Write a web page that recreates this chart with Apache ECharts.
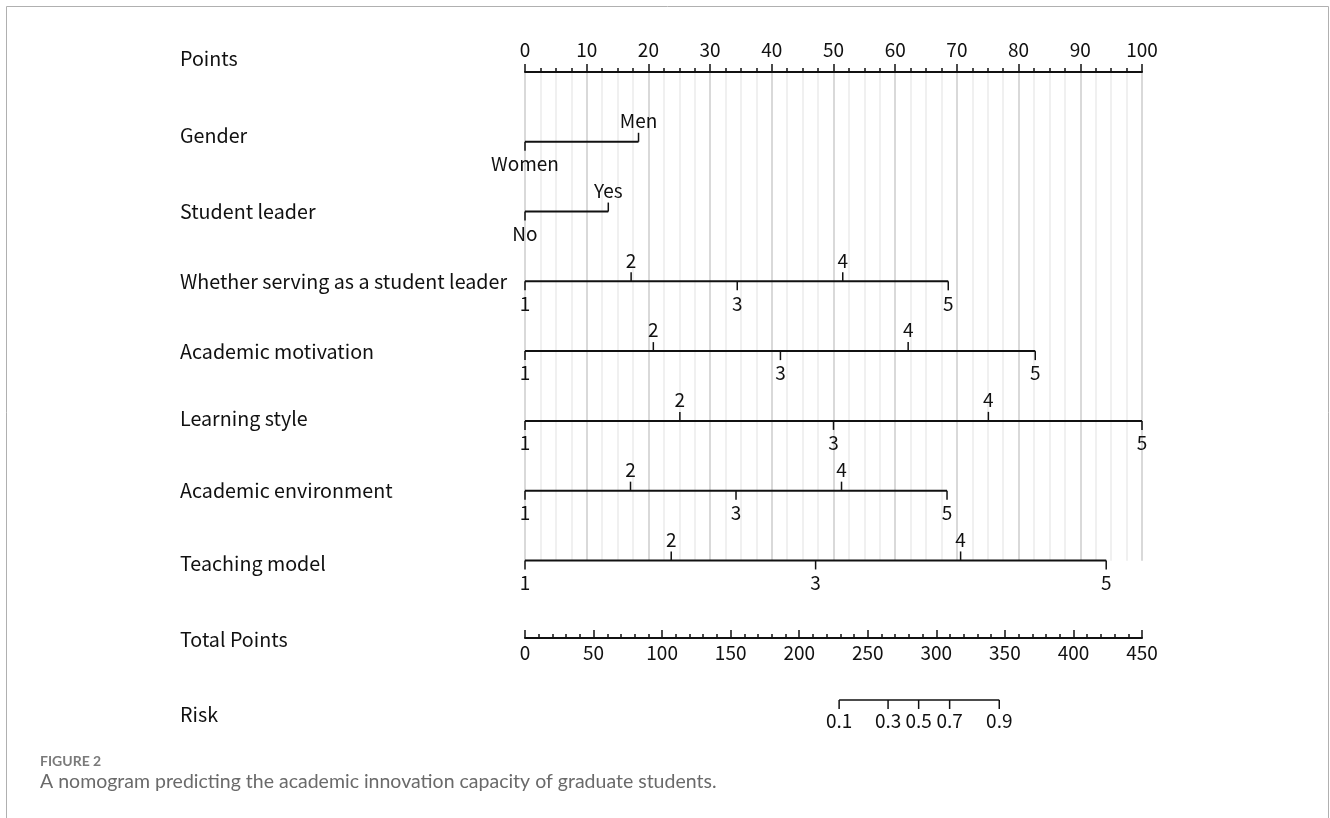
<!DOCTYPE html>
<html>
<head>
<meta charset="utf-8">
<title>Nomogram</title>
<script src="https://cdn.jsdelivr.net/npm/echarts@6/dist/echarts.min.js"></script>
<style>
  html, body { margin: 0; padding: 0; background: #fff; }
  #chart { width: 1330px; height: 818px; }
</style>
</head>
<body>
<div id="chart"></div>
<script>
// row titles, top to bottom
var rowNames = ['Points', 'Gender', 'Student leader', 'Whether serving as a student leader',
  'Academic motivation', 'Learning style', 'Academic environment', 'Teaching model',
  'Total Points', 'Risk'];

// variable scales: level labels and the points they map to
var genderLevels = ['Women', 'Men'];
var genderPoints = [0, 18.4];
var leaderLevels = ['No', 'Yes'];
var leaderPoints = [0, 13.5];
var scoreLevels = ['1', '2', '3', '4', '5'];
var servingPoints = [0, 17.2, 34.4, 51.5, 68.6];
var motivationPoints = [0, 20.8, 41.4, 62.1, 82.7];
var learningPoints = [0, 25.1, 50.0, 75.1, 100];
var environmentPoints = [0, 17.1, 34.2, 51.3, 68.4];
var teachingPoints = [0, 23.7, 47.1, 70.6, 94.2];

// risk scale, positioned on the total points axis
var riskLabels = ['0.1', '0.3', '0.5', '0.7', '0.9'];
var riskTotals = [229.1, 264.8, 287.1, 309.7, 345.9];

var FONT = '"Noto Sans CJK SC", "Noto Sans", sans-serif';

var scales = [
  { levels: genderLevels, pts: genderPoints },
  { levels: leaderLevels, pts: leaderPoints },
  { levels: scoreLevels, pts: servingPoints },
  { levels: scoreLevels, pts: motivationPoints },
  { levels: scoreLevels, pts: learningPoints },
  { levels: scoreLevels, pts: environmentPoints },
  { levels: scoreLevels, pts: teachingPoints }
];
// vertical position of each row in row units (layout)
var rowPos = [0, 1, 2, 3, 4, 5, 6, 7, 8.1, 9];
var rowLabelDy = [-13, -6, 0, 0, 0, -2, 0, 3, 2, 15];

function txt(s, x, y, size, align) {
  return {
    type: 'text',
    style: { text: s, x: x, y: y, fill: '#111', fontSize: size, fontFamily: FONT,
      align: align || 'center', verticalAlign: 'middle' }
  };
}
function seg(x1, y1, x2, y2, w) {
  return { type: 'line', shape: { x1: x1, y1: y1, x2: x2, y2: y2 },
    style: { stroke: '#111', lineWidth: w || 1.5 } };
}

function renderScale(params, api) {
  var s = scales[params.dataIndex];
  var row = rowPos[params.dataIndex + 1];
  var kids = [];
  var p0 = api.coord([s.pts[0], row]);
  var p1 = api.coord([s.pts[s.pts.length - 1], row]);
  kids.push(seg(p0[0], p0[1], p1[0], p1[1], 2));
  s.pts.forEach(function (v, i) {
    var p = api.coord([v, row]);
    var up = i % 2 === 1;
    kids.push(seg(p[0], p[1], p[0], p[1] + (up ? -9 : 9), 1.5));
    kids.push(txt(s.levels[i], p[0], p[1] + (up ? -21 : 22), 19));
  });
  return { type: 'group', children: kids };
}

function renderRisk(params, api) {
  var row = rowPos[9];
  var kids = [];
  var p0 = api.coord([riskTotals[0], row]);
  var p1 = api.coord([riskTotals[riskTotals.length - 1], row]);
  kids.push(seg(p0[0], p0[1], p1[0], p1[1], 1.5));
  riskTotals.forEach(function (v, i) {
    var p = api.coord([v, row]);
    kids.push(seg(p[0], p[1], p[0], p[1] + 9, 1.5));
    kids.push(txt(riskLabels[i], p[0], p[1] + 21, 19));
  });
  return { type: 'group', children: kids };
}

function renderNames(params, api) {
  var i = params.dataIndex;
  var p = api.coord([0, rowPos[i]]);
  return txt(rowNames[i], 180, p[1] + rowLabelDy[i], 19.7, 'left');
}

var chart = echarts.init(document.getElementById('chart'));
var option = {
  animation: false,
  backgroundColor: '#fff',
  grid: [
    { left: 525, right: 188, top: 72, height: 488.7 },
    { left: 525, right: 188, top: 72, bottom: 118 },
    { left: 525, right: 188, top: 560, height: 78 }
  ],
  xAxis: [
    {
      gridIndex: 0, type: 'value', position: 'top', min: 0, max: 100, interval: 10,
      axisLine: { show: true, onZero: false, lineStyle: { color: '#111', width: 2 } },
      axisTick: { show: true, length: 8, lineStyle: { color: '#111', width: 1.5 } },
      minorTick: { show: true, splitNumber: 4, length: 4, lineStyle: { color: '#111', width: 1.5 } },
      axisLabel: { margin: 13, color: '#111', fontSize: 19, fontFamily: FONT },
      splitLine: { show: true, lineStyle: { color: '#cccccc', width: 1.5 } },
      minorSplitLine: { show: true, lineStyle: { color: '#ececec', width: 1.5 } }
    },
    { gridIndex: 1, type: 'value', min: 0, max: 100, show: false },
    { gridIndex: 1, type: 'value', min: 0, max: 450, show: false, position: 'top' },
    {
      gridIndex: 2, type: 'value', position: 'bottom', min: 0, max: 450, interval: 50,
      axisLine: { show: true, onZero: false, lineStyle: { color: '#111', width: 2 } },
      axisTick: { show: true, inside: true, length: 8, lineStyle: { color: '#111', width: 1.5 } },
      minorTick: { show: true, splitNumber: 5, length: 4, lineStyle: { color: '#111', width: 1.5 } },
      axisLabel: { margin: 5, color: '#111', fontSize: 19, fontFamily: FONT },
      splitLine: { show: false }
    }
  ],
  yAxis: [
    { gridIndex: 0, type: 'value', min: 0, max: 1, show: false },
    { gridIndex: 1, type: 'value', min: 0, max: 9, inverse: true, show: false },
    { gridIndex: 2, type: 'value', min: 0, max: 1, show: false }
  ],
  series: [
    { type: 'custom', xAxisIndex: 1, yAxisIndex: 1, clip: false, silent: true,
      renderItem: renderScale, data: scales.map(function (s, i) { return [i]; }) },
    { type: 'custom', xAxisIndex: 2, yAxisIndex: 1, clip: false, silent: true,
      renderItem: renderRisk, data: [[0]] },
    { type: 'custom', xAxisIndex: 1, yAxisIndex: 1, clip: false, silent: true,
      renderItem: renderNames, data: rowNames.map(function (n, i) { return [i]; }) },
    { type: 'line', xAxisIndex: 0, yAxisIndex: 0, data: [] },
    { type: 'line', xAxisIndex: 3, yAxisIndex: 2, data: [] }
  ],
  graphic: [
    { type: 'line', shape: { x1: 6.5, y1: 6.5, x2: 1328.5, y2: 6.5 }, style: { stroke: '#b0b0b0', lineWidth: 1 } },
    { type: 'line', shape: { x1: 6.5, y1: 6.5, x2: 6.5, y2: 818 }, style: { stroke: '#b0b0b0', lineWidth: 1 } },
    { type: 'line', shape: { x1: 1328.5, y1: 6.5, x2: 1328.5, y2: 818 }, style: { stroke: '#b0b0b0', lineWidth: 1 } },
    { type: 'text', left: 40, top: 754,
      style: { text: 'FIGURE 2', fill: '#7a7a7a', fontSize: 14, fontWeight: 'bold', fontFamily: 'Lato, sans-serif' } },
    { type: 'text', left: 40, top: 772,
      style: { text: 'A nomogram predicting the academic innovation capacity of graduate students.',
        fill: '#6a6a6a', fontSize: 19.5, fontFamily: 'Lato, sans-serif' } }
  ]
};
chart.setOption(option);
</script>
</body>
</html>
